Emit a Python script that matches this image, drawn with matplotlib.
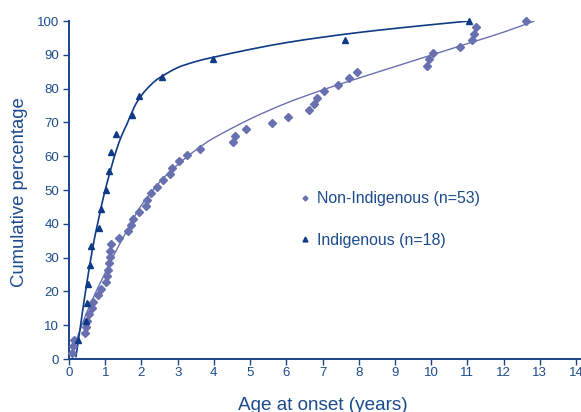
import matplotlib
matplotlib.use("Agg")
import matplotlib.pyplot as plt
from matplotlib.path import Path
from matplotlib.patches import PathPatch
import numpy as np

# ---- data ----
ind_x = [0.25, 0.46, 0.49, 0.53, 0.58, 0.62, 0.83, 0.87, 1.03, 1.11, 1.15, 1.29,
         1.74, 1.94, 2.56, 3.98, 7.62, 11.05]
ind_y = [100.0 * (i + 1) / 18 for i in range(18)]

non_x = [0.07, 0.12, 0.15, 0.44, 0.46, 0.51, 0.56, 0.64, 0.67, 0.80, 0.88, 1.02,
         1.04, 1.08, 1.10, 1.12, 1.14, 1.17, 1.38, 1.62, 1.70, 1.76, 1.92, 2.12,
         2.16, 2.26, 2.42, 2.60, 2.78, 2.85, 3.05, 3.27, 3.62, 4.54, 4.59, 4.89,
         5.60, 6.06, 6.64, 6.76, 6.84, 7.03, 7.44, 7.72, 7.95, 9.88, 9.95, 10.06,
         10.80, 11.12, 11.17, 11.23, 12.62]
non_y = [100.0 * (i + 1) / 53 for i in range(53)]

# fitted curves
ind_fit_x = [0.19, 0.3, 0.4, 0.5, 0.6, 0.7, 0.8, 0.9, 1.0, 1.15, 1.3, 1.45, 1.6,
             1.8, 2.0, 2.25, 2.5, 3.0, 3.5, 4.0, 5.0, 6.0, 7.0, 8.0, 9.0, 10.0, 11.05]
ind_fit_y = [0.5, 8.5, 16, 23, 29.5, 35.5, 40.5, 45.5, 50, 56, 61.5, 66, 69.5,
             74.5, 78, 81, 83.2, 86.2, 88.0, 89.3, 91.6, 93.6, 95.2, 96.6, 97.8, 98.9, 100]

non_fit_x = [0.05, 0.25, 0.5, 0.75, 1.0, 1.25, 1.5, 1.75, 2.0, 2.5, 3.0, 3.5, 4.0,
             5.0, 6.0, 7.0, 8.0, 9.0, 10.0, 11.0, 12.0, 12.85]
non_fit_y = [1, 7, 14, 20, 25.5, 31, 36, 41, 45.5, 52.3, 57.5, 61.8, 65.4,
             71.0, 75.7, 79.6, 83.1, 86.5, 89.9, 93.3, 96.7, 100]

x_ticks = list(range(0, 15))
y_ticks = list(range(0, 101, 10))

labels = ["Non-Indigenous (n=53)", "Indigenous (n=18)"]

# ---- style ----
plt.rcParams['font.family'] = ['Liberation Sans', 'DejaVu Sans']
navy = "#0E3A86"
peri = "#6870B0"
txt = "#1C4B8C"
axc = "#1A4589"


def smooth_path(xs, ys):
    """Catmull-Rom through the read points, drawn as cubic Bezier segments."""
    P = np.column_stack([xs, ys]).astype(float)
    n = len(P)
    verts = [P[0]]
    codes = [Path.MOVETO]
    for i in range(n - 1):
        p0 = P[i - 1] if i > 0 else P[i]
        p1 = P[i]
        p2 = P[i + 1]
        p3 = P[i + 2] if i + 2 < n else P[i + 1]
        c1 = p1 + (p2 - p0) / 6.0
        c2 = p2 - (p3 - p1) / 6.0
        verts += [c1, c2, p2]
        codes += [Path.CURVE4] * 3
    return Path(verts, codes)


W, H = 581, 412
fig = plt.figure(figsize=(W / 100, H / 100), dpi=100)
ax = fig.add_axes([69 / W, (H - 359) / H, (581 - 69) / W, (359 - 21) / H])

ax.add_patch(PathPatch(smooth_path(non_fit_x, non_fit_y), facecolor='none',
                       edgecolor=peri, lw=1.0, zorder=2))
ax.add_patch(PathPatch(smooth_path(ind_fit_x, ind_fit_y), facecolor='none',
                       edgecolor=navy, lw=1.2, zorder=2))
h1, = ax.plot(non_x, non_y, linestyle='none', marker='D', ms=3.6, color=peri,
              mec=peri, zorder=3, clip_on=False)
h2, = ax.plot(ind_x, ind_y, linestyle='none', marker='^', ms=5.0, color=navy,
              mec=navy, zorder=3, clip_on=False)

ax.set_xlim(0, 14 * (581 - 69) / (576 - 69))
ax.set_ylim(0, 100)
ax.set_xticks(x_ticks)
ax.set_yticks(y_ticks)
ax.tick_params(axis='both', colors=axc, labelcolor=txt, labelsize=9.5,
               length=4, width=1.0, direction='out')
ax.tick_params(axis='x', pad=2)
ax.tick_params(axis='y', pad=3)
for s in ['top', 'right']:
    ax.spines[s].set_visible(False)
for s in ['left', 'bottom']:
    ax.spines[s].set_color(axc)
    ax.spines[s].set_linewidth(1.4)

fig.text(20 / W, 1 - 192 / H, "Cumulative percentage", rotation=90,
         ha='center', va='center', color=txt, fontsize=13.3)
fig.text(323 / W, 1 - 397 / H, "Age at onset (years)", ha='center', va='top',
         color=txt, fontsize=13.6)

leg = ax.legend([h1, h2], labels, loc='center left',
                bbox_to_anchor=((298.5 - 69) / (581 - 69), (359 - 219.5) / 338),
                frameon=False, fontsize=11.4, labelspacing=1.65, handlelength=0.8,
                handletextpad=0.35, borderpad=0, borderaxespad=0,
                markerscale=0.7)
for t in leg.get_texts():
    t.set_color(txt)

fig.savefig("out.png", dpi=100)
